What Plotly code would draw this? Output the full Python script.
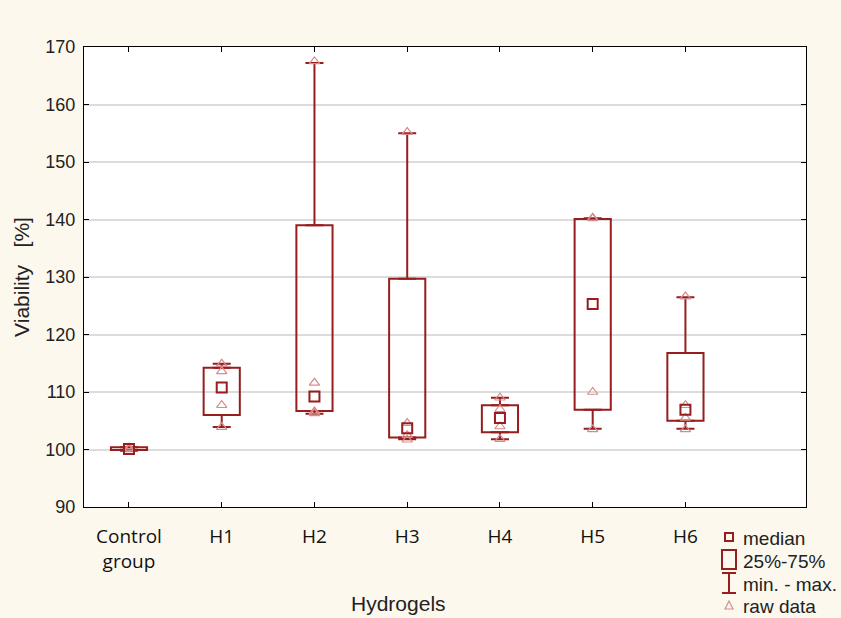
import plotly.graph_objects as go

categories = ["Control<br>group", "H1", "H2", "H3", "H4", "H5", "H6"]
q1 = [99.9, 106.0, 106.7, 102.1, 103.0, 106.9, 105.0]
q3 = [100.4, 114.2, 139.0, 129.7, 107.7, 140.1, 116.8]
vmin = [99.8, 103.9, 106.2, 101.8, 101.8, 103.6, 103.6]
vmax = [100.4, 114.9, 167.2, 155.0, 109.0, 140.2, 126.5]
median = [100.1, 110.8, 109.2, 103.7, 105.5, 125.3, 106.9]
raw_data = {
    "Control<br>group": [100.0, 100.2, 100.3],
    "H1": [114.9, 113.6, 107.7, 103.9],
    "H2": [167.5, 111.6, 106.6, 106.3],
    "H3": [155.2, 104.6, 102.5, 101.7],
    "H4": [109.0, 107.0, 104.0, 101.8],
    "H5": [140.3, 140.2, 110.0, 103.5],
    "H6": [126.6, 107.7, 105.5, 103.5],
}
y_ticks = [90, 100, 110, 120, 130, 140, 150, 160, 170]

DARK = "rgb(150,30,30)"
PINK = "rgb(215,140,140)"
n = len(categories)

fig = go.Figure()

# 25%-75% boxes
fig.add_trace(go.Bar(
    x=categories, y=[b - a for a, b in zip(q1, q3)], base=q1,
    width=0.39,
    marker=dict(color="rgba(255,255,255,0)", line=dict(color=DARK, width=2)),
    showlegend=False, hoverinfo="skip",
))
# upper whiskers
fig.add_trace(go.Scatter(
    x=categories, y=q3, mode="markers", marker=dict(size=1, opacity=0),
    error_y=dict(type="data", symmetric=False,
                 array=[b - a for a, b in zip(q3, vmax)], arrayminus=[0] * n,
                 color=DARK, thickness=2, width=9),
    showlegend=False, hoverinfo="skip",
))
# lower whiskers
fig.add_trace(go.Scatter(
    x=categories, y=q1, mode="markers", marker=dict(size=1, opacity=0),
    error_y=dict(type="data", symmetric=False,
                 array=[0] * n, arrayminus=[a - b for a, b in zip(q1, vmin)],
                 color=DARK, thickness=2, width=9),
    showlegend=False, hoverinfo="skip",
))

rx, ry = [], []
for c in categories:
    for v in raw_data[c]:
        rx.append(c)
        ry.append(v)
fig.add_trace(go.Scatter(
    x=rx, y=ry, mode="markers",
    marker=dict(symbol="triangle-up-open", size=9, color=PINK, line=dict(width=1.2)),
    showlegend=False,
))
fig.add_trace(go.Scatter(
    x=categories, y=median, mode="markers",
    marker=dict(symbol="square-open", size=10, color=DARK, line=dict(width=2)),
    showlegend=False,
))

L, R, T, B = 84, 806, 47, 507
def px(x):
    return (x - L) / (R - L)
def py(y):
    return (B - y) / (B - T)

shapes = []
shapes.append(dict(type="rect", xref="paper", yref="paper",
                   x0=px(725), x1=px(733), y0=py(541), y1=py(533),
                   line=dict(color=DARK, width=2)))
shapes.append(dict(type="rect", xref="paper", yref="paper",
                   x0=px(722), x1=px(736), y0=py(569), y1=py(550),
                   line=dict(color=DARK, width=2)))
for (x0, y0, x1, y1) in [(722, 573, 736, 573), (729, 573, 729, 593), (722, 593, 736, 593)]:
    shapes.append(dict(type="line", xref="paper", yref="paper",
                       x0=px(x0), x1=px(x1), y0=py(y0), y1=py(y1),
                       line=dict(color=DARK, width=2)))
shapes.append(dict(type="path", xref="paper", yref="paper",
                   path=f"M {px(725)} {py(609)} L {px(733)} {py(609)} L {px(729)} {py(601)} Z",
                   line=dict(color=PINK, width=1.2)))

FONT = "Liberation Sans, Arial"
annotations = []
for txt, yy in [("median", 538), ("25%-75%", 561), ("min. - max.", 584), ("raw data", 606)]:
    annotations.append(dict(text=txt, xref="paper", yref="paper", x=px(741), y=py(yy),
                            xanchor="left", yanchor="middle", showarrow=False,
                            font=dict(family=FONT, size=19, color="#222")))
annotations.append(dict(text="Hydrogels", xref="paper", yref="paper", x=px(398), y=py(603),
                        xanchor="center", yanchor="middle", showarrow=False,
                        font=dict(family=FONT, size=21, color="#222")))

fig.update_layout(
    width=841, height=618,
    margin=dict(l=L, r=841 - R, t=T, b=618 - B),
    paper_bgcolor="#fcf8ee", plot_bgcolor="white",
    shapes=shapes, annotations=annotations,
    showlegend=False, barmode="overlay",
)
fig.update_xaxes(
    range=[-0.485, 7.3], showgrid=False,
    showline=True, linecolor="black", linewidth=1, mirror="ticks",
    ticks="inside", ticklen=5, tickcolor="black", ticklabelstandoff=12,
    tickfont=dict(family="Open Sans, Noto Sans", size=19, color="#111"),
)
fig.update_yaxes(
    range=[90, 170], tickvals=y_ticks,
    showgrid=True, gridcolor="#dcdcdc", gridwidth=2,
    showline=True, linecolor="black", linewidth=1, mirror="ticks",
    ticks="inside", ticklen=5, tickcolor="black", zeroline=False,
    ticklabelstandoff=4,
    tickfont=dict(family=FONT, size=18, color="#222"),
    title=dict(text="Viability   [%]", standoff=10,
               font=dict(family=FONT, size=21, color="#222")),
)

fig.write_html("out.html")
